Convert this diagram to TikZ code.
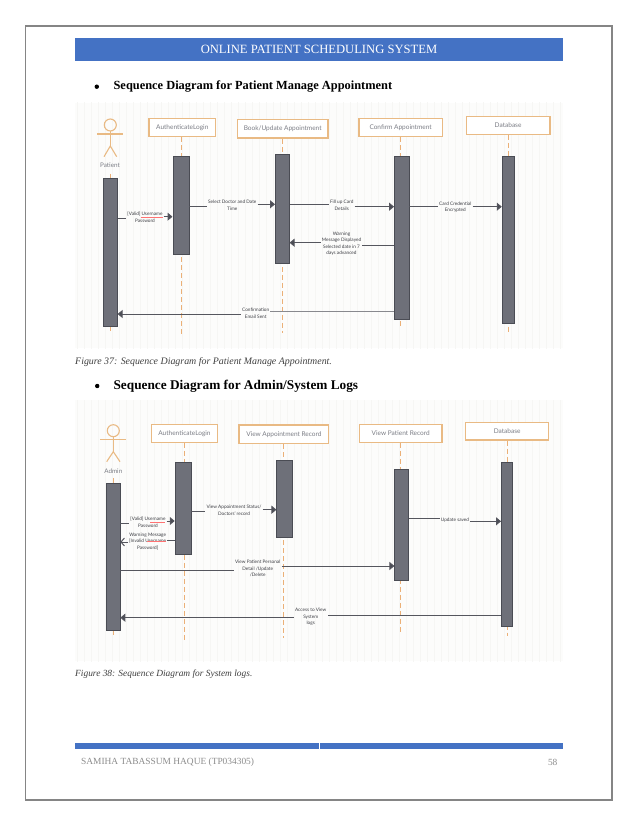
\documentclass[tikz,border=0pt]{standalone}
\usepackage{fontspec}
\setmainfont{Liberation Serif}
\setsansfont{Lato}
\usetikzlibrary{arrows.meta}
\definecolor{hdrblue}{HTML}{4472C4}
\definecolor{framegray}{HTML}{858585}
\definecolor{boxorange}{HTML}{E9BA84}
\definecolor{barfill}{HTML}{6E7079}
\definecolor{barline}{HTML}{4A4C54}
\definecolor{dashorange}{HTML}{EBB077}
\definecolor{msgline}{HTML}{55565E}
\definecolor{bgpale}{HTML}{FCFCFB}
\definecolor{gridpale}{HTML}{F6F6F4}
\definecolor{titlegray}{HTML}{7B7D85}
\definecolor{msgtext}{HTML}{3C3D43}
\definecolor{footgray}{HTML}{8C8C8C}
\tikzset{
  x=1pt,y=-1pt,
  partbox/.style={draw=boxorange,line width=1.2pt,fill=white,font=\sffamily\fontsize{6.5}{7}\selectfont,text=titlegray,inner sep=0pt},
  bar/.style={draw=barline,line width=.5pt,fill=barfill,inner sep=0pt},
  life/.style={draw=dashorange,line width=1pt,dash pattern=on 5pt off 3pt},
  msg/.style={draw=msgline,line width=1pt},
  msgarrow/.style={msg,-{Triangle[length=5pt,width=8pt,fill=barline]}},
  msgopen/.style={msg,-{Straight Barb[length=3.5pt,width=8pt]}},
  msgtxt/.style={font=\sffamily\fontsize{4.7}{6.6}\selectfont,text=msgtext,align=center,inner xsep=1pt,inner ysep=0pt},
  actorline/.style={draw=boxorange,line width=1.1pt},
  actorlbl/.style={font=\sffamily\fontsize{6.3}{7}\selectfont,text=titlegray,inner sep=0pt},
  heading/.style={font=\bfseries\fontsize{12.4}{13}\selectfont,anchor=west,inner sep=0pt},
  capt/.style={font=\itshape,text=black!75,anchor=west,inner sep=0pt},
  squiggle/.style={draw=red!55,line width=.3pt},
}
\begin{document}
\begin{tikzpicture}
\useasboundingbox (0,0) rectangle (638,826);
\fill[white] (0,0) rectangle (638,826);
% page frame and bands
\draw[framegray,line width=1.3pt] (25.7,26) rectangle (612,800);
\fill[hdrblue] (75,37.7) rectangle (563,61.5);
\node[text=white,font=\fontsize{12.6}{13}\selectfont,inner sep=0pt] (title) at (319,49.5) {ONLINE PATIENT SCHEDULING SYSTEM};
\fill[hdrblue] (75,742.7) rectangle (319.2,749);
\fill[hdrblue] (320,742.7) rectangle (563,749);
\node[text=footgray,font=\fontsize{9.4}{10}\selectfont,anchor=west,inner sep=0pt] (foot) at (81,762.4) {SAMIHA TABASSUM HAQUE (TP034305)};
\node[text=footgray,font=\fontsize{9.4}{10}\selectfont,inner sep=0pt] (pg) at (552.7,762.4) {58};
% headings
\fill (96.8,86.7) circle (2.2);
\node[heading] (h1) at (113.4,86.7) {Sequence Diagram for Patient Manage Appointment};
\node[capt,font=\itshape\fontsize{9.9}{10}\selectfont] (c1) at (75,362.3) {Figure 37: Sequence Diagram for Patient Manage Appointment.};
\fill (97.2,386) circle (2.2);
\node[heading,font=\bfseries\fontsize{13.3}{14}\selectfont] (h2) at (113.4,386) {Sequence Diagram for Admin/System Logs};
\node[capt,font=\itshape\fontsize{9.4}{10}\selectfont] (c2) at (75,674) {Figure 38: Sequence Diagram for System logs.};
% backgrounds
\fill[bgpale] (75,103) rectangle (563,348);
\fill[bgpale] (75,400) rectangle (563,661);
\begin{scope}
\clip (75,103) rectangle (563,348);
\draw[gridpale,line width=.3pt,xstep=7,ystep=7] (70,98) grid (570,350);
\end{scope}
\begin{scope}
\clip (75,400) rectangle (563,661);
\draw[gridpale,line width=.3pt,xstep=7,ystep=7] (70,399) grid (570,665);
\end{scope}

% ---------- Diagram 1 ----------
\coordinate (pa) at (110.3,174);
\coordinate (pb) at (110.3,333);
\node[partbox,minimum width=66.7pt,minimum height=18pt] (a1) at (182.3,127.7) {AuthenticateLogin};
\node[partbox,line width=1.4pt,minimum width=90.8pt,minimum height=18.8pt] (b1) at (282.7,128.7) {Book/Update Appointment};
\node[partbox,minimum width=83.3pt,minimum height=18pt] (c1b) at (400.6,127.7) {Confirm Appointment};
\node[partbox,minimum width=83.7pt,minimum height=18pt] (d1) at (508.1,125.3) {Database};
\coordinate (a1e) at (181.7,335);
\coordinate (b1e) at (282,333);
\coordinate (c1e) at (400.3,328.7);
\coordinate (d1e) at (508,331.7);
\draw[life] (pa) -- (pb);
\draw[life] (a1.south -| a1e) -- (a1e);
\draw[life] (b1.south -| b1e) -- (b1e);
\draw[life] (c1b.south -| c1e) -- (c1e);
\draw[life] (d1.south -| d1e) -- (d1e);
\node[bar,minimum width=14.3pt,minimum height=147.7pt] (pbar) at (110.2,252.2) {};
\node[bar,minimum width=16.3pt,minimum height=97.6pt] (abar) at (180.9,205.5) {};
\node[bar,minimum width=14pt,minimum height=109.4pt] (bbar) at (282.3,209) {};
\node[bar,minimum width=14.7pt,minimum height=162.3pt] (cbar) at (401.7,237.9) {};
\node[bar,minimum width=11.7pt,minimum height=166.6pt] (dbar) at (507.9,240) {};
% actor
\draw[actorline] (110.3,125) circle (6);
\draw[actorline] (97.3,134) -- (123.3,134);
\draw[actorline] (110.3,131) -- (110.3,146);
\draw[actorline] (104,156.7) -- (110.3,146) -- (116.7,156.7);
\node[actorlbl] (pl) at (110,165.3) {Patient};
% messages
\node[msgtxt] (m1) at (145,217.3) {[Valid] Username\\Password};
\draw[squiggle] (141,217.5) -- (163,217.5);
\draw[msg] (pbar.east |- 0,218.3) -- (m1.west |- 0,218.3);
\draw[msgarrow] (m1.east |- 0,216.7) -- (abar.west |- 0,216.7);
\node[msgtxt] (m2) at (232.3,205.3) {Select Doctor and Date\\Time};
\draw[msg] (abar.east |- 0,206.7) -- (m2.west |- 0,206.7);
\draw[msgarrow] (m2.east |- 0,204.3) -- (bbar.west |- 0,204.3);
\node[msgtxt] (m3) at (341.7,205.5) {Fill up Card\\Details};
\draw[msg] (bbar.east |- 0,204.3) -- (m3.west |- 0,204.3);
\draw[msgarrow] (m3.east |- 0,206.7) -- (cbar.west |- 0,206.7);
\node[msgtxt] (m4) at (455.3,207) {Card Credential\\Encrypted};
\draw[msg] (cbar.east |- 0,206.7) -- (m4.west |- 0,206.7);
\draw[msgarrow] (m4.east |- 0,206.7) -- (dbar.west |- 0,206.7);
\node[msgtxt] (m5) at (341.5,243.7) {Warning\\Message Displayed\\Selected date in 7\\days advanced};
\draw[msg] (cbar.west |- 0,245) -- (m5.east |- 0,245);
\draw[msgarrow] (m5.west |- 0,242.7) -- (bbar.east |- 0,242.7);
\node[msgtxt] (m6) at (255.7,313.3) {Confirmation\\Email Sent};
\draw[msg,draw=msgline!70] (cbar.west |- 0,311.7) -- (m6.east |- 0,311.7);
\draw[msgarrow] (m6.west |- 0,314) -- (pbar.east |- 0,314);

% ---------- Diagram 2 ----------
\coordinate (ada) at (113.3,478);
\coordinate (adb) at (113.3,637.3);
\node[partbox,minimum width=66.4pt,minimum height=17.6pt] (a2) at (184.5,433.5) {AuthenticateLogin};
\node[partbox,minimum width=89.7pt,minimum height=18.7pt] (b2) at (283.9,434.3) {View Appointment Record};
\node[partbox,minimum width=82.7pt,minimum height=17.6pt] (c2b) at (400.7,433.5) {View Patient Record};
\node[partbox,minimum width=83pt,minimum height=17.3pt] (d2) at (507.2,431.3) {Database};
\coordinate (a2e) at (184,640);
\coordinate (b2e) at (283.3,638.3);
\coordinate (c2e) at (400.7,632.3);
\coordinate (d2e) at (507,635.7);
\draw[life] (ada) -- (adb);
\draw[life] (a2.south -| a2e) -- (a2e);
\draw[life] (b2.south -| b2e) -- (b2e);
\draw[life] (c2b.south -| c2e) -- (c2e);
\draw[life] (d2.south -| d2e) -- (d2e);
\node[bar,minimum width=13.7pt,minimum height=146.7pt] (pbar2) at (113.2,556.7) {};
\node[bar,minimum width=16pt,minimum height=91.7pt] (abar2) at (183,508.2) {};
\node[bar,minimum width=16pt,minimum height=77.7pt] (bbar2) at (284.7,498.8) {};
\node[bar,minimum width=14pt,minimum height=110.7pt] (cbar2) at (401.7,524.7) {};
\node[bar,minimum width=11.4pt,minimum height=164.4pt] (dbar2) at (507,544.5) {};
% actor
\draw[actorline] (113.3,430.7) circle (6);
\draw[actorline] (100,439.3) -- (126,439.3);
\draw[actorline] (113.3,436.7) -- (113.3,451.7);
\draw[actorline] (106.7,461.7) -- (113.3,451.7) -- (120,461.7);
\node[actorlbl] (al) at (113.3,470.7) {Admin};
% messages
\node[msgtxt] (n1) at (148,522.3) {[Valid] Username\\Password};
\draw[squiggle] (150,522.5) -- (165,522.5);
\draw[msg] (pbar2.east |- 0,523.3) -- (n1.west |- 0,523.3);
\draw[msgarrow] (n1.east |- 0,521) -- (abar2.west |- 0,521);
\node[msgtxt] (n2) at (147.7,541.3) {Warning Message\\{[Invalid Username}\\Password]};
\draw[squiggle] (147,541.5) -- (166,541.5);
\draw[msg] (abar2.west |- 0,540) -- (n2.east |- 0,540);
\draw[msgopen] (n2.west |- 0,542) -- (pbar2.east |- 0,542);
\node[msgtxt] (n3) at (234,510.5) {View Appointment Status/\\Doctors' record};
\draw[msg] (abar2.east |- 0,511.7) -- (n3.west |- 0,511.7);
\draw[msgarrow] (n3.east |- 0,509.7) -- (bbar2.west |- 0,509.7);
\node[msgtxt] (n4) at (257.7,568.5) {View Patient Personal\\Detail /Update\\/Delete};
\draw[msg] (pbar2.east |- 0,570.7) -- (n4.west |- 0,570.7);
\draw[msgarrow] (n4.east |- 0,566) -- (cbar2.west |- 0,566);
\node[msgtxt] (n5) at (455,520) {Update saved};
\draw[msg] (cbar2.east |- 0,518.7) -- (n5.west |- 0,518.7);
\draw[msgarrow] (n5.east |- 0,521.3) -- (dbar2.west |- 0,521.3);
\node[msgtxt] (n6) at (310.7,617) {Access to View\\System\\logs};
\draw[msg] (dbar2.west |- 0,615.3) -- (n6.east |- 0,615.3);
\draw[msgarrow] (n6.west |- 0,617.7) -- (pbar2.east |- 0,617.7);
\end{tikzpicture}
\end{document}
